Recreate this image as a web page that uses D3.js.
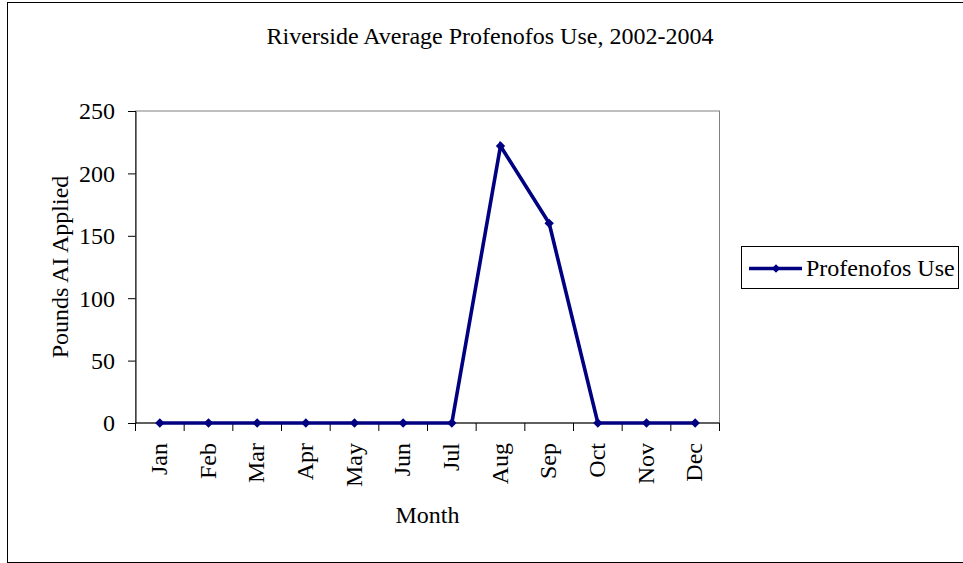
<!DOCTYPE html>
<html><head><meta charset="utf-8">
<script src="https://cdn.jsdelivr.net/npm/d3@7"></script>
<style>body{margin:0;background:#fff;} svg{display:block;} text{font-family:"Liberation Serif","Times New Roman",serif;fill:#000;}</style>
</head><body>
<script>
const months = ["Jan","Feb","Mar","Apr","May","Jun","Jul","Aug","Sep","Oct","Nov","Dec"];
const useValues = [0,0,0,0,0,0,0,222,160,0,0,0];
const yTicks = [0,50,100,150,200,250];
const seriesName = "Profenofos Use";
const titleText = "Riverside Average Profenofos Use, 2002-2004";

const W = 963, H = 563;
const FS = "24px";
const svg = d3.select("body").append("svg").attr("width", W).attr("height", H);
svg.append("rect").attr("x",7.5).attr("y",2.5).attr("width",970).attr("height",560)
  .attr("fill","#fff").attr("stroke","#000").attr("stroke-width",1);

const L = 135.5, R = 719.5, T = 111, B = 423;
const x = d3.scaleBand().domain(months).range([L,R]);
const y = d3.scaleLinear().domain([0,250]).range([B,T]);

// plot border (grey)
svg.append("rect").attr("x",L).attr("y",T).attr("width",R-L).attr("height",B-T)
  .attr("fill","none").attr("stroke","#808080").attr("stroke-width",1);

// y axis
const yAxis = d3.axisLeft(y).tickValues(yTicks).tickSize(7.5).tickPadding(13);
const gy = svg.append("g").attr("transform",`translate(${L},0)`).call(yAxis);
gy.select(".domain").attr("stroke","#000");
gy.selectAll(".tick line").attr("stroke","#000");
gy.selectAll("text").style("font-size",FS).style("font-family","Liberation Serif").attr("dy","0.33em");

// x axis with ticks at category boundaries
const gx = svg.append("g").attr("transform",`translate(0,${B})`);
gx.append("line").attr("x1",L).attr("x2",R).attr("y1",0).attr("y2",0).attr("stroke","#000");
const bounds = months.map(m => x(m)).concat([R]);
gx.selectAll("line.tk").data(bounds).join("line").attr("class","tk")
  .attr("x1",d=>d).attr("x2",d=>d).attr("y1",0).attr("y2",8).attr("stroke","#000");
gx.selectAll("text").data(months).join("text")
  .attr("transform",d=>`translate(${x(d)+x.bandwidth()/2+7},20) rotate(-90)`)
  .attr("text-anchor","end").style("font-size",FS).text(d=>d);

// line
const line = d3.line().x((d,i)=>x(months[i])+x.bandwidth()/2).y(d=>y(d));
svg.append("path").datum(useValues).attr("d",line).attr("fill","none")
  .attr("stroke","#000080").attr("stroke-width",3.6).attr("stroke-linejoin","miter");
svg.selectAll("path.pt").data(useValues).join("path").attr("class","pt")
  .attr("d", d3.symbol().type(d3.symbolSquare).size(44)).attr("fill","#000080")
  .attr("transform",(d,i)=>`translate(${x(months[i])+x.bandwidth()/2},${y(d)}) rotate(45)`);

// title
svg.append("text").attr("x",490).attr("y",44).attr("text-anchor","middle")
  .style("font-size",FS).text(titleText);
// axis titles
svg.append("text").attr("transform",`translate(68,${(T+B)/2}) rotate(-90)`)
  .attr("text-anchor","middle").style("font-size",FS).text("Pounds AI Applied");
svg.append("text").attr("x",(L+R)/2).attr("y",523).attr("text-anchor","middle")
  .style("font-size",FS).text("Month");

// legend
const lg = svg.append("g");
lg.append("rect").attr("x",741.5).attr("y",246.5).attr("width",217).attr("height",42)
  .attr("fill","#fff").attr("stroke","#000");
lg.append("line").attr("x1",749).attr("x2",802).attr("y1",268.5).attr("y2",268.5)
  .attr("stroke","#000080").attr("stroke-width",3.6);
lg.append("path").attr("d",d3.symbol().type(d3.symbolSquare).size(36))
  .attr("transform","translate(776,268.5) rotate(45)").attr("fill","#000080");
lg.append("text").attr("x",806).attr("y",276).style("font-size",FS).text(seriesName);
</script>
</body></html>
